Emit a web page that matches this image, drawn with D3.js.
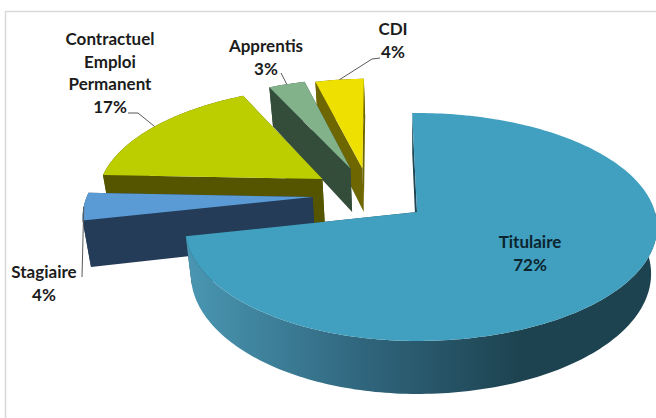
<!DOCTYPE html>
<html>
<head>
<meta charset="utf-8">
<script src="https://cdnjs.cloudflare.com/ajax/libs/d3/7.8.5/d3.min.js"></script>
<style>
  html, body { margin: 0; padding: 0; background: #fff; }
  svg { display: block; }
</style>
</head>
<body>
<script>
const categories = ["Titulaire", "Stagiaire", "Contractuel Emploi Permanent", "Apprentis", "CDI"]
const values = [72, 4, 17, 3, 4]

const topColors = ["#41a0bf", "#5b9bd5", "#bccd00", "#82b28a", "#eee000"]
const wallColors = ["#1f4654", "#243c58", "#555500", "#344c3a", "#6e6600"]

// how far each slice is pulled out, in disk units (x, y)
const explode = [[0, 0], [-0.462, -0.136], [-0.428, -0.3065], [-0.305, -0.41], [-0.25, -0.41]]
// label anchor: centre x and first baseline
const labelPos = [[530, 248], [44, 278], [110, 45], [266, 52], [393, 35]]
// leader elbow points between the label and the slice
const leaderFrom = [null, [[82, 277]], [[128, 113], [138, 113]], [[281, 73]], [[380, 58], [372, 59]]]

const width = 656, height = 418
const cx = 417, cy = 212
const ryScale = 112, rxLeft = 230, rxRight = 238, persp = 0.1316
const depth = 46, depthShrink = 0.975
const lineHeight = 22.7

const svg = d3.select("body").append("svg")
    .attr("width", width)
    .attr("height", height)

// frame of the chart area
svg.append("path")
    .attr("d", "M5.5," + height + "V11.5H" + width)
    .attr("fill", "none")
    .attr("stroke", "#d9d9d9")
    .attr("stroke-width", 1.5)

// shading of the rim of the big slice
const grad = svg.append("defs").append("linearGradient")
    .attr("id", "rim")
    .attr("gradientUnits", "userSpaceOnUse")
    .attr("x1", 186).attr("x2", 520)
    .attr("y1", 0).attr("y2", 0)
grad.append("stop").attr("offset", 0).attr("stop-color", "#4a97b3")
grad.append("stop").attr("offset", 0.55).attr("stop-color", "#2f647b")
grad.append("stop").attr("offset", 1).attr("stop-color", "#1d4350")

const pie = d3.pie().sort(null).startAngle(-0.024).endAngle(2 * Math.PI - 0.024)
const arcs = pie(values)

// disk coordinates -> screen, with a simple perspective. level 1 is the bottom face
function project(x, y, level) {
    const w = 1 - persp * y
    const rx = x > 0 ? rxRight : rxLeft
    const shrink = level ? depthShrink : 1
    return [
        cx + shrink * rx * x / w,
        cy + ryScale * y / w + (level ? depth / w : 0)
    ]
}

function rimPoint(i, angle, level) {
    return project(explode[i][0] + Math.sin(angle), explode[i][1] - Math.cos(angle), level)
}

function apex(i, level) {
    return project(explode[i][0], explode[i][1], level)
}

function arcAngles(a) {
    const n = Math.ceil((a.endAngle - a.startAngle) / 0.02)
    return d3.range(n + 1).map(k => a.startAngle + (a.endAngle - a.startAngle) * k / n)
}

const line = d3.line()

// back to front
const order = [4, 3, 2, 1, 0]

order.forEach(i => {
    const a = arcs[i]
    const g = svg.append("g").attr("class", "slice")

    // the two cut faces
    ;[a.startAngle, a.endAngle].forEach(t => {
        g.append("path")
            .attr("d", line([apex(i, 0), rimPoint(i, t, 0), rimPoint(i, t, 1), apex(i, 1)]) + "Z")
            .attr("fill", wallColors[i])
    })

    // outer rim, only the part that faces the viewer
    const rim = arcAngles(a).filter(t => Math.cos(t) < 0.02 || i != 0)
    const upper = rim.map(t => rimPoint(i, t, 0))
    const lower = rim.map(t => rimPoint(i, t, 1)).reverse()
    g.append("path")
        .attr("d", line(upper.concat(lower)) + "Z")
        .attr("fill", i == 0 ? "url(#rim)" : wallColors[i])

    // top face
    const top = [apex(i, 0)].concat(arcAngles(a).map(t => rimPoint(i, t, 0)))
    g.append("path")
        .attr("d", line(top) + "Z")
        .attr("fill", topColors[i])
})

// leader lines, they end on the middle of each slice's rim
arcs.forEach((a, i) => {
    if (!leaderFrom[i]) return
    const end = rimPoint(i, (a.startAngle + a.endAngle) / 2, 0)
    svg.append("path")
        .attr("d", line(leaderFrom[i].concat([end])))
        .attr("fill", "none")
        .attr("stroke", "#595959")
        .attr("stroke-width", 1)
})

// labels
categories.forEach((c, i) => {
    const lines = c.split(" ").concat(values[i] + "%")
    const t = svg.append("text")
        .attr("text-anchor", "middle")
        .attr("fill", i == 0 ? "#0b2530" : "#1c1c1c")
        .style("font-family", "Lato, 'Open Sans', sans-serif")
        .style("font-weight", "bold")
        .style("font-size", "17px")
    lines.forEach((l, k) => {
        t.append("tspan")
            .attr("x", labelPos[i][0])
            .attr("y", labelPos[i][1] + k * lineHeight)
            .text(l)
    })
})
</script>
</body>
</html>
